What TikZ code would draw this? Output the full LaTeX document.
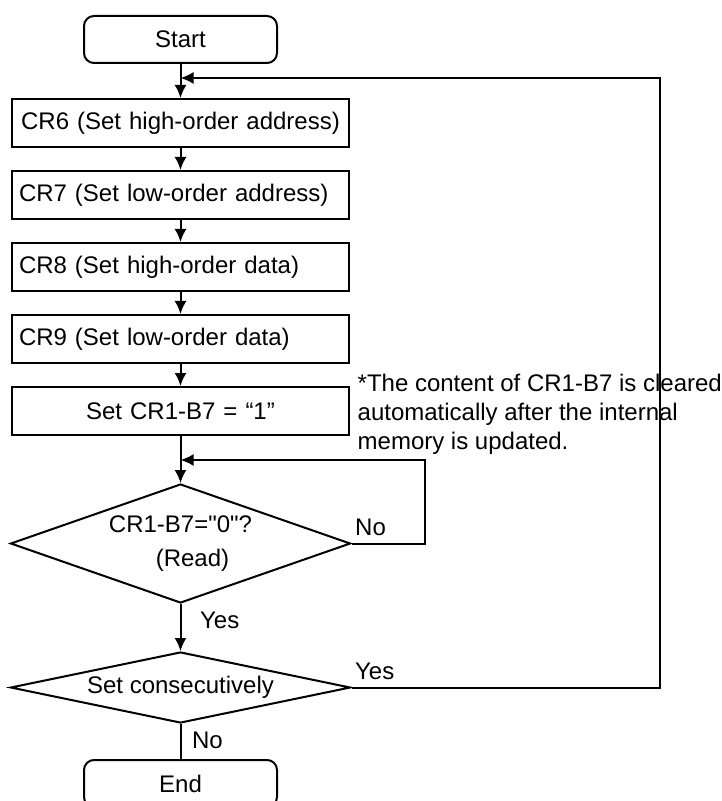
\documentclass[tikz,border=0pt]{standalone}
\usepackage{fontspec}
\setmainfont{Liberation Sans}
\usetikzlibrary{chains,positioning,shapes.geometric,arrows.meta}

\begin{document}
\begin{tikzpicture}[
    line width=1pt,
    every node/.style={font=\fontsize{12}{14.5}\selectfont},
    % define styles
    term/.style={
        draw,
        rounded corners=5pt,
        minimum width=96.5pt,
        minimum height=23.5pt
    },
    proc/.style={
        draw,
        minimum width=168.5pt,
        minimum height=24pt,
        text width=161.5pt,
        inner xsep=3.5pt,
        align=left
    },
    decide/.style={
        draw,
        diamond,
        inner sep=0pt,
        minimum width=170pt,
        align=center
    },
    flow/.style={-{Latex[length=6.5pt,width=6pt]}}
]
\useasboundingbox (0,0) rectangle (360.5pt,-400.5pt);
% Main chain start to end
\begin{scope}[start chain=main going below, node distance=11pt]
    \node[on chain=main, term] at (90.25pt,-19.75pt) (start) {Start};
    \node[on chain=main, proc, align=center, below=17pt of start, join=by flow] (cr6) {CR6 (Set high-order address)};
    \node[on chain=main, proc, join=by flow] (cr7) {CR7 (Set low-order address)};
    \node[on chain=main, proc, join=by flow] (cr8) {CR8 (Set high-order data)};
    \node[on chain=main, proc, join=by flow] (cr9) {CR9 (Set low-order data)};
    \node[on chain=main, proc, align=center, join=by flow] (setb7) {Set CR1-B7 = “1”};
    \node[on chain=main, decide, aspect=2.86, minimum height=59.5pt,
        below=23.5pt of setb7, join=by flow] (check)
        {CR1-B7=\textquotedbl0\textquotedbl?\\[2.5pt]\hspace*{12pt}(Read)};
    \node[on chain=main, decide, aspect=4.79, minimum height=35.5pt,
        below=23.5pt of check, join=by flow] (consec) {Set consecutively};
    \node[on chain=main, term, below=17.5pt of consec, join] (end) {End};
\end{scope}
% Note beside the flag box
\node[right=0pt of setb7, yshift=-1.5pt, align=left] (note) {*The content of CR1-B7 is cleared\\automatically after the internal\\memory is updated.};

% Merge points and turning points
\coordinate[below=7pt of start.south] (merge1);
\coordinate[below=12pt of setb7.south] (merge2);
\coordinate[right=36.5pt of check.east] (retry);
\coordinate[right=154pt of consec.east] (back);

% Loops back into the main line
\draw[flow] (check) -- (retry) |- (merge2);
\draw[flow] (consec) -- (back) |- (merge1);

% Branch labels
\node[above right=0pt and -2pt of check.east] (no1) {No};
\node[below right=0pt and 6pt of check.south] (yes1) {Yes};
\node[above right=0pt and -2pt of consec.east] (yes2) {Yes};
\node[below right=0pt and 2pt of consec.south] (no2) {No};
\end{tikzpicture}
\end{document}
